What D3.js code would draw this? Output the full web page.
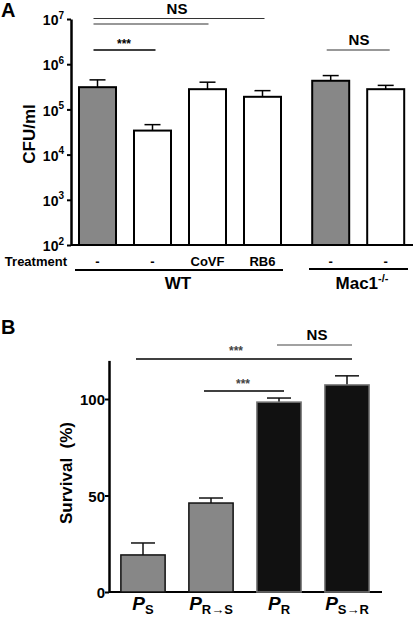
<!DOCTYPE html>
<html><head><meta charset="utf-8">
<script src="https://cdn.jsdelivr.net/npm/d3@7"></script>
<style>
body{margin:0;background:#fff;}
svg{display:block;font-family:"Liberation Sans",Arial,Helvetica,sans-serif;font-weight:bold;}
</style></head><body>
<svg id="c" width="415" height="617"></svg>
<script>
// ---------- Panel A data ----------
const treatA = ["-", "-", "CoVF", "RB6", "-", "-"];
const genotypeA = ["WT", "WT", "WT", "WT", "Mac1", "Mac1"];
const cfuMean = [3.1e5, 3.4e4, 2.8e5, 1.9e5, 4.3e5, 2.8e5];
const cfuUpper = [4.5e5, 4.6e4, 4.0e5, 2.6e5, 5.6e5, 3.4e5];
const filledA = [true, false, false, false, true, false];
const ticksA = [1e2, 1e3, 1e4, 1e5, 1e6, 1e7];

// ---------- Panel B data ----------
const catsB = [["P", "S"], ["P", "R\u2192S"], ["P", "R"], ["P", "S\u2192R"]];
const survMean = [19.2, 46.1, 98.4, 107.3];
const survUpper = [25.4, 48.7, 100.5, 112];
const darkB = [false, false, true, true];
const ticksB = [0, 50, 100];

const svg = d3.select("#c");
const FF = "'Liberation Sans',Arial,Helvetica,sans-serif";

// ================= PANEL A =================
const yA = d3.scaleLog().domain([1e2, 1e7]).range([245, 19]);
const slotA = i => i + (i >= 4 ? 0.24 : 0);
const xA = d3.scaleLinear().domain([0, 1]).range([97.5, 152.5]);
const bwA = 39;

svg.append("text").attr("x", 1).attr("y", 17).attr("font-size", 20).text("A");

const axA = svg.append("g").attr("transform", "translate(71,0)")
  .call(d3.axisLeft(yA).tickValues(ticksA).tickSize(4).tickSizeOuter(0).tickFormat(""));
axA.select(".domain").attr("stroke-width", 2.5).attr("stroke", "#000");
axA.selectAll(".tick line").attr("stroke-width", 2);
axA.selectAll(".tick").each(function(d) {
  const t = d3.select(this).append("text").attr("x", -7).attr("dy", "0.4em")
    .attr("text-anchor", "end").attr("font-size", 14).attr("fill", "#000").attr("font-family", FF);
  t.append("tspan").text("10");
  t.append("tspan").attr("font-size", 10).attr("dy", "-0.65em").text(Math.round(Math.log10(d)));
});
svg.append("line").attr("x1", 71).attr("x2", 413).attr("y1", yA(1e2)).attr("y2", yA(1e2))
  .attr("stroke", "#000").attr("stroke-width", 2);

svg.append("text").attr("transform", "translate(35,134) rotate(-90)")
  .attr("text-anchor", "middle").attr("font-size", 17).text("CFU/ml");

cfuMean.forEach((v, i) => {
  const cx = xA(slotA(i));
  svg.append("line").attr("x1", cx).attr("x2", cx).attr("y1", yA(v)).attr("y2", yA(cfuUpper[i]))
    .attr("stroke", "#000").attr("stroke-width", 1.5);
  svg.append("line").attr("x1", cx - 8).attr("x2", cx + 8).attr("y1", yA(cfuUpper[i])).attr("y2", yA(cfuUpper[i]))
    .attr("stroke", "#000").attr("stroke-width", 1.5);
});
svg.selectAll(".barA").data(cfuMean).enter().append("rect")
  .attr("x", (d, i) => xA(slotA(i)) - bwA / 2 + 1)
  .attr("width", bwA - 2)
  .attr("y", d => yA(d))
  .attr("height", d => yA(1e2) - yA(d))
  .attr("fill", (d, i) => filledA[i] ? "#878787" : "#fff")
  .attr("stroke", "#000").attr("stroke-width", 2);

function hline(x1, x2, y, w, c) {
  svg.append("line").attr("x1", x1).attr("x2", x2).attr("y1", y).attr("y2", y)
    .attr("stroke", c || "#000").attr("stroke-width", w || 1.2);
}
hline(xA(slotA(0)) - 4, xA(slotA(3)) + 2, 18.5, 1.2, "#333");
hline(xA(slotA(0)) - 4, xA(slotA(2)) + 1, 24, 1.2, "#333");
hline(xA(slotA(0)) - 4, xA(slotA(1)) + 3, 50, 1.6);
svg.append("text").attr("x", 177).attr("y", 14).attr("text-anchor", "middle").attr("font-size", 15).text("NS");
svg.append("text").attr("x", 124).attr("y", 48).attr("text-anchor", "middle").attr("font-size", 12).text("***");
hline(xA(slotA(4)) - 4, xA(slotA(5)) + 4, 50, 1.2, "#333");
svg.append("text").attr("x", 359).attr("y", 45).attr("text-anchor", "middle").attr("font-size", 15).text("NS");

svg.append("text").attr("x", 67).attr("y", 266).attr("text-anchor", "end").attr("font-size", 13).text("Treatment");
treatA.forEach((t, i) => {
  svg.append("text").attr("x", xA(slotA(i))).attr("y", 266).attr("text-anchor", "middle")
    .attr("font-size", 13).text(t);
});
hline(75, 283, 270, 1.8);
hline(309, 408, 269, 1.8);
svg.append("text").attr("x", 178).attr("y", 289).attr("text-anchor", "middle").attr("font-size", 17).text("WT");
const mac = svg.append("text").attr("x", 362).attr("y", 289).attr("text-anchor", "middle").attr("font-size", 17);
mac.append("tspan").text("Mac1");
mac.append("tspan").attr("font-size", 11).attr("dy", "-0.6em").text("-/-");

// ================= PANEL B =================
const yB = d3.scaleLinear().domain([0, 120]).range([592, 360.4]);
const xB = d3.scaleBand().domain(d3.range(catsB.length)).range([109, 381]).paddingInner(0.32).paddingOuter(0.16);

svg.append("text").attr("x", 1).attr("y", 334).attr("font-size", 20).text("B");

const axB = svg.append("g").attr("transform", "translate(109,0)")
  .call(d3.axisLeft(yB).tickValues(ticksB).tickSize(4).tickSizeOuter(0).tickFormat(d3.format("d")));
axB.select(".domain").attr("stroke-width", 2.5).attr("stroke", "#000");
axB.selectAll(".tick line").attr("stroke-width", 2);
axB.selectAll(".tick text").attr("font-size", 15).attr("font-family", FF).attr("font-weight", "bold")
  .attr("fill", "#000").attr("x", -4).attr("dy", "0.38em");
svg.append("line").attr("x1", 109).attr("x2", 382).attr("y1", yB(0)).attr("y2", yB(0))
  .attr("stroke", "#000").attr("stroke-width", 2);

svg.append("text").attr("transform", "translate(72,473) rotate(-90)")
  .attr("text-anchor", "middle").attr("font-size", 17).attr("xml:space", "preserve").text("Survival  (%)");

survMean.forEach((v, i) => {
  const cx = xB(i) + xB.bandwidth() / 2;
  svg.append("line").attr("x1", cx).attr("x2", cx).attr("y1", yB(v)).attr("y2", yB(survUpper[i]))
    .attr("stroke", "#111").attr("stroke-width", 1.5);
  svg.append("line").attr("x1", cx - 12).attr("x2", cx + 12).attr("y1", yB(survUpper[i])).attr("y2", yB(survUpper[i]))
    .attr("stroke", "#111").attr("stroke-width", 1.5);
});
svg.selectAll(".barB").data(survMean).enter().append("rect")
  .attr("x", (d, i) => xB(i) + 1)
  .attr("width", xB.bandwidth() - 2)
  .attr("y", d => yB(d))
  .attr("height", d => yB(0) - yB(d))
  .attr("fill", (d, i) => darkB[i] ? "#111" : "#878787")
  .attr("stroke", (d, i) => darkB[i] ? "#777" : "#111").attr("stroke-width", 1.5);

const cB = i => xB(i) + xB.bandwidth() / 2;
hline(136, 352, 359, 1.3);
hline(277, 352, 345, 1.2, "#444");
hline(204, 284, 391, 1.3);
svg.append("text").attr("x", 236).attr("y", 355).attr("text-anchor", "middle").attr("font-size", 12).attr("fill", "#444").text("***");
svg.append("text").attr("x", 243).attr("y", 388).attr("text-anchor", "middle").attr("font-size", 12).attr("fill", "#444").text("***");
svg.append("text").attr("x", 317).attr("y", 340).attr("text-anchor", "middle").attr("font-size", 15).text("NS");

catsB.forEach((c, i) => {
  const t = svg.append("text").attr("x", cB(i)).attr("y", 610).attr("text-anchor", "middle");
  t.append("tspan").attr("font-style", "italic").attr("font-size", 19).text(c[0]);
  t.append("tspan").attr("font-size", 13).attr("dy", 4).text(c[1]);
});
</script>
</body></html>
